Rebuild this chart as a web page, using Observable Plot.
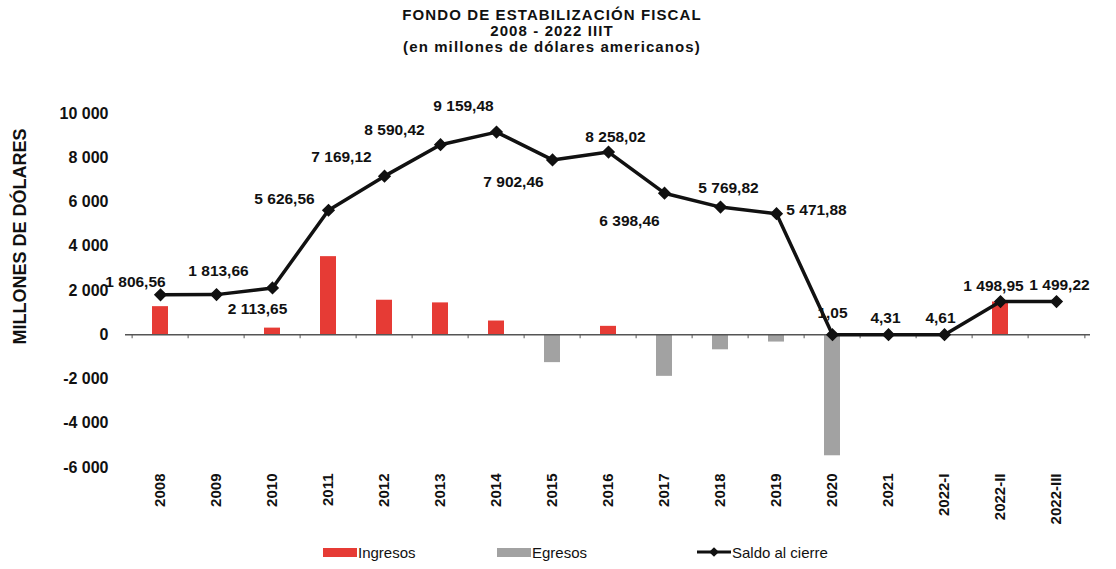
<!DOCTYPE html>
<html><head><meta charset="utf-8">
<script src="https://cdn.jsdelivr.net/npm/d3@7"></script>
<script src="https://cdn.jsdelivr.net/npm/@observablehq/plot@0.6"></script>
<style>
body{margin:0;background:#fff;font-family:"Liberation Sans",Arial,sans-serif;color:#111;}
#wrap{position:relative;width:1116px;height:569px;overflow:hidden;}
#title{position:absolute;left:-6px;top:7px;width:1116px;text-align:center;font-weight:bold;font-size:15px;line-height:16px;letter-spacing:1.1px;}
#chart{position:absolute;left:0;top:55px;}
#legend{position:absolute;top:543px;left:0;width:1116px;height:18px;font-size:15px;}
.li{position:absolute;top:0;display:flex;align-items:center;height:18px;}
.sw{width:34px;height:9px;display:inline-block;}
</style></head><body>
<div id="wrap">
<div id="title">FONDO DE ESTABILIZACIÓN FISCAL<br>2008 - 2022 IIIT<br>(en millones de dólares americanos)</div>
<div id="chart"></div>
<div id="legend"></div>
</div>
<script>
const categories = ["2008","2009","2010","2011","2012","2013","2014","2015","2016","2017","2018","2019","2020","2021","2022-I","2022-II","2022-III"];
const ingresos = [1270, 10, 300, 3530, 1560, 1440, 620, 0, 380, 0, 0, 0, 0, 3, 0, 1480, 0];
const egresos  = [0, 0, 0, 0, 0, 0, 0, -1260, 0, -1880, -680, -330, -5470, 0, 0, 0, 0];
const saldo    = [1806.56, 1813.66, 2113.65, 5626.56, 7169.12, 8590.42, 9159.48, 7902.46, 8258.02, 6398.46, 5769.82, 5471.88, 1.05, 4.31, 4.61, 1498.95, 1499.22];
const yTicks   = [-6000, -4000, -2000, 0, 2000, 4000, 6000, 8000, 10000];
const seriesNames = ["Ingresos", "Egresos", "Saldo al cierre"];
const yTitle = "MILLONES DE DÓLARES";

// label placement (layout, in pixels)
const labelDx = [-25, 2, -15, -44, -43, -46, -33, -39, 7, -35, 8, 40, 0, -3, -4, -7, 3];
const labelDy = [-13, -24, 21, -11, -19, -15, -26, 22, -15, 28, -19, -4, -22, -17, -17, -16, -17];

const RED = "#e63b35", GRAY = "#a2a2a2", BLACK = "#111";

const es = d3.formatLocale({decimal: ",", thousands: "\u00a0", grouping: [3], currency: ["", ""], minus: "-"});
const fmtVal = es.format(",.2f");
const fmtTick = es.format(",d");

const rows = categories.map((c, i) => ({cat: c, ingresos: ingresos[i], egresos: egresos[i], saldo: saldo[i]}));

const W = 1116, ML = 125, MR = 26;
const step = (W - ML - MR) / categories.length;

const labelMarks = rows.map((r, i) => Plot.text([r], {
  x: "cat", y: "saldo", text: d => fmtVal(d.saldo),
  dx: labelDx[i], dy: labelDy[i], fontSize: 15.5, fontWeight: "bold", fill: BLACK
}));

const chart = Plot.plot({
  width: W, height: 470,
  marginLeft: ML, marginRight: MR, marginTop: 58, marginBottom: 58,
  style: {fontFamily: "'Liberation Sans', Arial, sans-serif", fontWeight: "bold", color: "#111", background: "white"},
  x: {type: "band", domain: categories, padding: 0, label: null},
  y: {domain: [-6000, 10000], label: null},
  marks: [
    Plot.axisY({ticks: yTicks, tickSize: 0, tickPadding: 17, tickFormat: fmtTick, fontSize: 16, label: null}),
    Plot.axisX({anchor: "bottom", tickSize: 0, tickRotate: -90, tickPadding: 6, fontSize: 15, label: null}),
    Plot.text([yTitle], {frameAnchor: "left", textAnchor: "middle", rotate: -90, dx: -105, dy: -54, fontSize: 18, fontWeight: "bold", fill: BLACK}),
    Plot.barY(rows, {x: "cat", y: "ingresos", fill: RED, insetLeft: 20, insetRight: 20}),
    Plot.barY(rows, {x: "cat", y: "egresos", fill: GRAY, insetLeft: 20, insetRight: 20}),
    Plot.ruleY([0], {stroke: "#555", strokeWidth: 1.5}),
    Plot.ruleX(categories, {x: d => d, y1: 0, y2: 0, insetBottom: -4, dx: -step / 2, stroke: "#555"}),
    Plot.ruleX(categories.slice(-1), {x: d => d, y1: 0, y2: 0, insetBottom: -4, dx: step / 2, stroke: "#555"}),
    Plot.line(rows, {x: "cat", y: "saldo", stroke: BLACK, strokeWidth: 3.5}),
    Plot.dot(rows, {x: "cat", y: "saldo", symbol: "diamond2", r: 5, fill: BLACK, stroke: BLACK}),
    ...labelMarks
  ]
});
document.getElementById("chart").appendChild(chart);

// legend
const legend = document.getElementById("legend");
const items = [
  {name: seriesNames[0], left: 323, kind: "bar", color: RED},
  {name: seriesNames[1], left: 497, kind: "bar", color: GRAY},
  {name: seriesNames[2], left: 697, kind: "line", color: BLACK}
];
items.forEach(it => {
  const d = document.createElement("div");
  d.className = "li";
  d.style.left = it.left + "px";
  if (it.kind === "bar") {
    const s = document.createElement("span");
    s.className = "sw"; s.style.background = it.color;
    d.appendChild(s);
  } else {
    const svg = d3.create("svg").attr("width", 34).attr("height", 18);
    svg.append("line").attr("x1", 0).attr("x2", 34).attr("y1", 9).attr("y2", 9).attr("stroke", it.color).attr("stroke-width", 3);
    svg.append("path").attr("d", d3.symbol(d3.symbolDiamond2, 60)()).attr("transform", "translate(17,9)").attr("fill", it.color);
    d.appendChild(svg.node());
  }
  const t = document.createElement("span");
  t.textContent = it.name;
  t.style.marginLeft = "1px";
  d.appendChild(t);
  legend.appendChild(d);
});
</script>
</body></html>
